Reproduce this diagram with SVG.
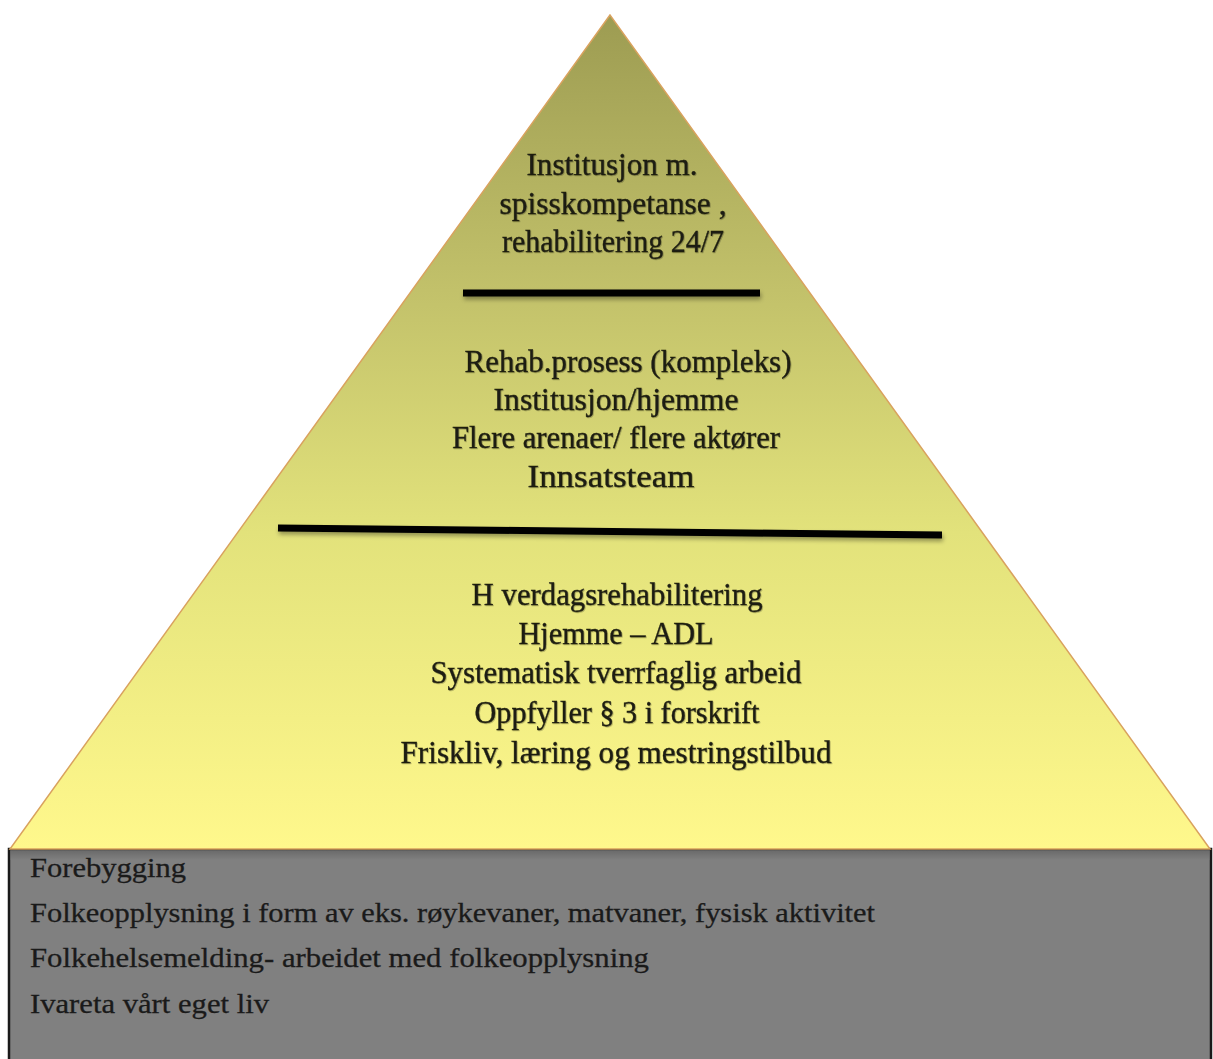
<svg xmlns="http://www.w3.org/2000/svg" width="1213" height="1059" viewBox="0 0 1213 1059">
  <defs>
    <linearGradient id="pyramidFill" x1="0" y1="15" x2="0" y2="849" gradientUnits="userSpaceOnUse">
      <stop offset="0" stop-color="#9d9c52"/>
      <stop offset="0.33" stop-color="#c2c16a"/>
      <stop offset="0.62" stop-color="#e2e27b"/>
      <stop offset="1" stop-color="#fff88c"/>
    </linearGradient>
    <linearGradient id="baseShade" x1="0" y1="0" x2="0" y2="1">
      <stop offset="0" stop-color="#5a5a5a"/>
      <stop offset="1" stop-color="#808080"/>
    </linearGradient>
    <filter id="softShadow" x="-5%" y="-50%" width="110%" height="300%">
      <feDropShadow dx="1" dy="3" stdDeviation="2" flood-color="#000" flood-opacity="0.35"/>
    </filter>
    <filter id="textShadow" x="-5%" y="-20%" width="110%" height="140%">
      <feDropShadow dx="0.8" dy="0.8" stdDeviation="0.6" flood-color="#000" flood-opacity="0.3"/>
    </filter>
  </defs>
  <style>
    .tier { font-family: "Liberation Serif", "DejaVu Serif", serif; font-size: 31px; fill: #1d1d12; stroke: #1d1d12; stroke-width: 0.35; text-anchor: middle; }
    .base { font-family: "Liberation Serif", "DejaVu Serif", serif; font-size: 28px; fill: #1a1a1a; stroke: #1a1a1a; stroke-width: 0.3; }
    .divider { stroke: #000; stroke-width: 7; stroke-linecap: butt; fill: none; }
  </style>

  <rect width="1213" height="1059" fill="#ffffff"/>

  <!-- grey foundation block -->
  <g id="foundation">
    <rect x="9" y="849" width="1202" height="220" fill="#808080" stroke="#1a1a1a" stroke-width="2.5"/>
    <rect x="10.5" y="850" width="1199" height="10" fill="url(#baseShade)" opacity="0.6"/>
    <g class="base">
      <text x="30" y="877" textLength="156" lengthAdjust="spacingAndGlyphs">Forebygging</text>
      <text x="30" y="922" textLength="845" lengthAdjust="spacingAndGlyphs">Folkeopplysning i form av eks. røykevaner, matvaner, fysisk aktivitet</text>
      <text x="30" y="967" textLength="619" lengthAdjust="spacingAndGlyphs">Folkehelsemelding- arbeidet med folkeopplysning</text>
      <text x="30" y="1013" textLength="239" lengthAdjust="spacingAndGlyphs">Ivareta vårt eget liv</text>
    </g>
  </g>

  <!-- pyramid -->
  <g id="pyramid">
    <polygon points="610,15 10,849 1210,849" fill="url(#pyramidFill)" stroke="#d9a25e" stroke-width="1.5" stroke-linejoin="miter"/>
    <line x1="10" y1="849" x2="1210" y2="849" stroke="#b4783e" stroke-width="2.5" filter="url(#softShadow)"/>
  </g>

  <!-- top tier -->
  <g id="tier-top" class="tier" filter="url(#textShadow)">
    <text x="612" y="175" textLength="171" lengthAdjust="spacingAndGlyphs">Institusjon m.</text>
    <text x="613" y="214" textLength="227" lengthAdjust="spacingAndGlyphs">spisskompetanse ,</text>
    <text x="613" y="252" textLength="222" lengthAdjust="spacingAndGlyphs">rehabilitering 24/7</text>
  </g>

  <!-- middle tier -->
  <g id="tier-middle" class="tier" filter="url(#textShadow)">
    <text x="628" y="372" textLength="327" lengthAdjust="spacingAndGlyphs">Rehab.prosess (kompleks)</text>
    <text x="616" y="410" textLength="245" lengthAdjust="spacingAndGlyphs">Institusjon/hjemme</text>
    <text x="616" y="448" textLength="328" lengthAdjust="spacingAndGlyphs">Flere arenaer/ flere aktører</text>
    <text x="611" y="487" textLength="167" lengthAdjust="spacingAndGlyphs">Innsatsteam</text>
  </g>

  <!-- bottom tier -->
  <g id="tier-bottom" class="tier" filter="url(#textShadow)">
    <text x="617" y="605" textLength="291" lengthAdjust="spacingAndGlyphs">H<tspan dx="8">verdagsrehabilitering</tspan></text>
    <text x="616" y="644" textLength="195" lengthAdjust="spacingAndGlyphs">Hjemme – ADL</text>
    <text x="616" y="683" textLength="371" lengthAdjust="spacingAndGlyphs">Systematisk tverrfaglig arbeid</text>
    <text x="617" y="723" textLength="285" lengthAdjust="spacingAndGlyphs">Oppfyller § 3 i forskrift</text>
    <text x="616" y="763" textLength="431" lengthAdjust="spacingAndGlyphs">Friskliv, læring og mestringstilbud</text>
  </g>

  <!-- tier dividers -->
  <g id="connectors" filter="url(#softShadow)">
    <line class="divider" x1="463" y1="293" x2="760" y2="293"/>
    <line class="divider" x1="278" y1="528" x2="942" y2="535"/>
  </g>
</svg>
